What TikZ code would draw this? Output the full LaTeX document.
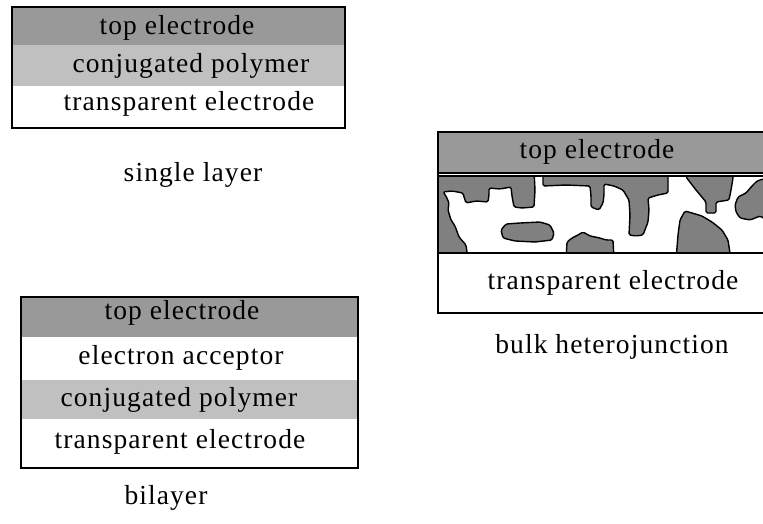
\documentclass[tikz,border=0pt]{standalone}
\usepackage{fontspec}
\setmainfont{Liberation Serif}
\newfontfamily\etichfont{Liberation Serif}[LetterSpace=4]
\usetikzlibrary{calc}
\definecolor{grigioscuro}{RGB}{153,153,153}
\definecolor{grigiochiaro}{RGB}{192,192,192}
\definecolor{grigiomedio}{RGB}{128,128,128}
\tikzset{
bordo/.style={draw=black,line width=1.2pt},
etichetta/.style={anchor=base,inner sep=0pt,font=\etichfont\fontsize{27.5}{30}\selectfont},
grano/.style={fill=grigiomedio,draw=black,line width=1.4pt,line join=round,rounded corners=1.5pt}}

\begin{document}
\begin{tikzpicture}[x=1pt,y=-1pt]

\clip (0,0) rectangle (763,524);
\useasboundingbox (0,0) rectangle (763,524);

% single layer
      \fill[grigioscuro] (12,7) rectangle (345,45);
      \fill[grigiochiaro] (12,45) rectangle (345,86);
      \draw[bordo] (12,7) rectangle (345,128);
      \node[etichetta] (s1) at (177,35) {top electrode};
      \node[etichetta] (s2) at (191,73) {conjugated polymer};
      \node[etichetta] (s3) at (189,111) {transparent electrode};
      \node[etichetta] (s4) at (193,181) {single layer};

% bilayer
      \fill[grigioscuro] (21,297) rectangle (358,337);
      \fill[grigiochiaro] (21,380) rectangle (358,419);
      \draw[bordo] (21,297) rectangle (358,468);
      \node[etichetta] (b1) at (182,319) {top electrode};
      \node[etichetta] (b2) at (181,364) {electron acceptor};
      \node[etichetta] (b3) at (179,406) {conjugated polymer};
      \node[etichetta] (b4) at (180,448) {transparent electrode};
      \node[etichetta] (b5) at (166,504) {bilayer};

% bulk heterojunction
      \begin{scope}
      \clip (438,176) rectangle (780,253);
      \draw[grano] (430,170) -- (534,170) -- (535,190) -- (534,207) -- (522,208) -- (514,207)
        -- (512,196) -- (511,187) -- (500,189) -- (489,188) -- (489,195) -- (488,202)
        -- (476,201) -- (466,203) -- (464,197) -- (463,193) -- (452,191) -- (443,192)
        -- (446,196) -- (449,203) -- (448,210) -- (451,220) -- (455,226) -- (459,237)
        -- (466,245) -- (468,260) -- (430,260) -- cycle;
      \draw[grano] (543,170) -- (668,170) -- (668,193) -- (658,195) -- (648,198) -- (649,210)
        -- (648,222) -- (643,235) -- (636,236) -- (629,235) -- (630,215) -- (629,200)
        -- (623,190) -- (614,186) -- (604,184) -- (604,195) -- (603,203) -- (599,210)
        -- (591,207) -- (591,196) -- (590,186) -- (566,185) -- (543,186) -- cycle;
      \draw[grano] (686,170) -- (733,170) -- (733,178) -- (731,190) -- (729,200) -- (716,202)
        -- (716,213) -- (706,213) -- (706,202) -- (696,190) -- (686,177) -- cycle;
      \draw[grano] (735,205) -- (738,197) -- (746,193) -- (752,186) -- (757,181) -- (763,179)
        -- (775,179) -- (775,225) -- (760,216) -- (750,220) -- (740,218) -- (736,212) -- cycle;
      \draw[grano] (676,260) -- (678,235) -- (680,220) -- (685,211) -- (692,213) -- (702,216)
        -- (712,222) -- (722,230) -- (728,240) -- (731,260) -- cycle;
      \draw[grano] (501,230) -- (506,224) -- (520,223) -- (540,222) -- (550,225) -- (554,233)
        -- (552,240) -- (535,242) -- (515,241) -- (503,238) -- cycle;
      \draw[grano] (566,260) -- (567,242) -- (572,238) -- (578,235) -- (583,232) -- (590,236)
        -- (600,238) -- (606,240) -- (613,240) -- (614,260) -- cycle;
      \end{scope}
      \fill[grigioscuro] (438,132) rectangle (780,173);
      \draw[bordo] (438,132) rectangle (780,173);
      \draw[bordo] (438,176) rectangle (780,253);
      \draw[bordo] (438,132) rectangle (780,313);
      \node[etichetta] (h1) at (597,158) {top electrode};
      \node[etichetta] (h2) at (613,289) {transparent electrode};
      \node[etichetta] (h3) at (612,353) {bulk heterojunction};
\end{tikzpicture}
\end{document}
